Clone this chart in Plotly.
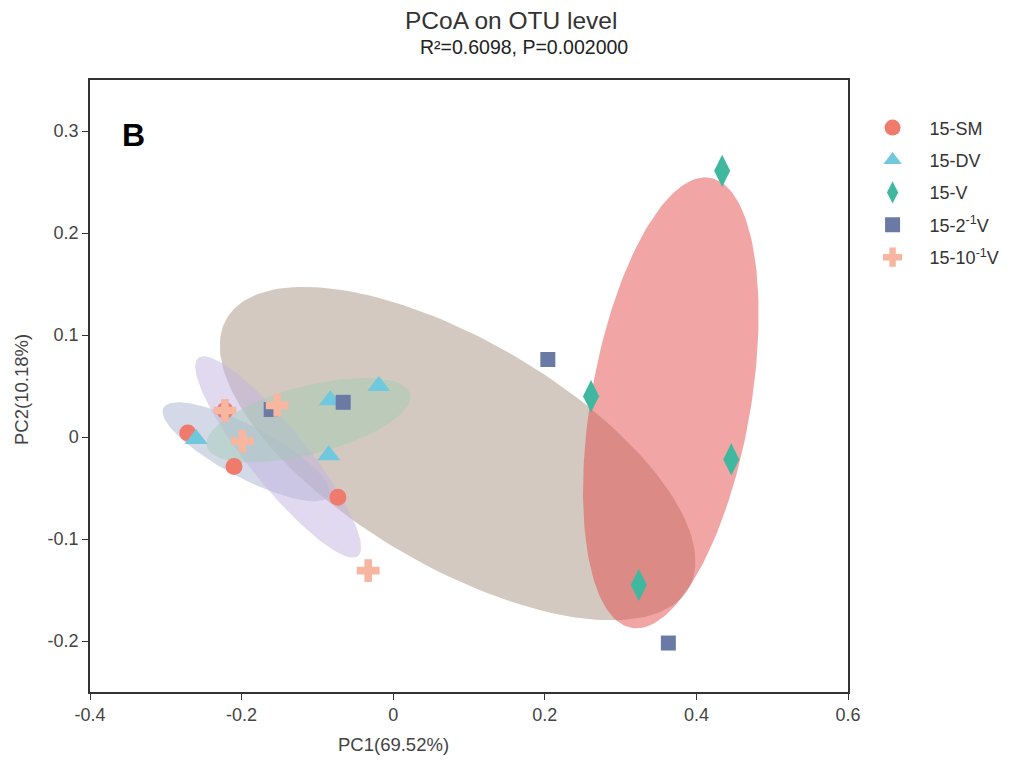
import numpy as np
import plotly.graph_objects as go

# ---- data ----
groups = ["15-SM", "15-DV", "15-V", "15-2<sup>-1</sup>V", "15-10<sup>-1</sup>V"]

sm_x = [-0.271, -0.222, -0.210, -0.073]
sm_y = [0.004, 0.026, -0.029, -0.059]

dv_x = [-0.260, -0.083, -0.019, -0.085]
dv_y = [-0.002, 0.036, 0.050, -0.018]

v_x = [0.434, 0.261, 0.446, 0.324]
v_y = [0.261, 0.040, -0.022, -0.145]

h2_x = [0.204, -0.066, -0.161, 0.363]
h2_y = [0.076, 0.034, 0.027, -0.202]

h10_x = [-0.222, -0.153, -0.199, -0.033]
h10_y = [0.026, 0.031, -0.004, -0.131]

x_tickvals = [-0.4, -0.2, 0, 0.2, 0.4, 0.6]
x_ticktext = ["-0.4", "-0.2", "0", "0.2", "0.4", "0.6"]
y_tickvals = [-0.2, -0.1, 0, 0.1, 0.2, 0.3]
y_ticktext = ["-0.2", "-0.1", "0", "0.1", "0.2", "0.3"]

# ---- styles ----
FONT = "Liberation Sans, Arial, sans-serif"
marker_colors = ["#EF7B6C", "#6FC8DC", "#40B8A0", "#6A7AA5", "#F6B6A0"]
marker_symbols = ["circle", "triangle-up", "diamond-tall", "square", "cross"]
marker_sizes = [17, 20, 23, 15, 19]
ellipse_fills = ["rgba(168,180,206,0.5)", "rgba(160,205,180,0.45)",
                 "rgba(228,76,76,0.5)", "rgba(167,147,129,0.5)",
                 "rgba(196,180,226,0.5)"]
ellipse_scale = 1.3

data = [(sm_x, sm_y), (dv_x, dv_y), (v_x, v_y), (h2_x, h2_y), (h10_x, h10_y)]


def ellipse(xs, ys, k, n=200):
    xs = np.asarray(xs); ys = np.asarray(ys)
    cov = np.cov(np.vstack([xs, ys]))
    vals, vecs = np.linalg.eigh(cov)
    t = np.linspace(0, 2 * np.pi, n)
    circ = np.vstack([np.cos(t), np.sin(t)])
    pts = vecs @ (np.sqrt(vals)[:, None] * circ) * k
    return pts[0] + xs.mean(), pts[1] + ys.mean()


fig = go.Figure()

ellipse_order = [3, 0, 4, 1, 2]
for i in ellipse_order:
    ex, ey = ellipse(data[i][0], data[i][1], ellipse_scale)
    fig.add_trace(go.Scatter(x=ex, y=ey, mode="lines", fill="toself",
                             fillcolor=ellipse_fills[i], line=dict(width=0),
                             hoverinfo="skip", showlegend=False))

for i, name in enumerate(groups):
    fig.add_trace(go.Scatter(
        x=data[i][0], y=data[i][1], mode="markers", name=name,
        legendgroup=str(i),
        marker=dict(color=marker_colors[i], symbol=marker_symbols[i],
                    size=marker_sizes[i], line=dict(width=0))))

tick_font = dict(family=FONT, size=18, color="#444444")
title_font = dict(family=FONT, size=18.5, color="#444444")
axis_style = dict(showline=True, linecolor="#333333", linewidth=1.5, mirror=True,
                  ticks="outside", ticklen=6, tickwidth=1.3, tickcolor="#333333",
                  showgrid=False, zeroline=False, automargin=False, tickfont=tick_font)

fig.update_layout(
    width=1019, height=761,
    margin=dict(l=90, r=171, t=80, b=69, autoexpand=False),
    plot_bgcolor="white", paper_bgcolor="white",
    font=dict(family=FONT, color="#333333"),
    xaxis=dict(range=[-0.4, 0.6], tickmode="array", tickvals=x_tickvals,
               ticktext=x_ticktext, **axis_style),
    yaxis=dict(range=[-0.25, 0.35], tickmode="array", tickvals=y_tickvals,
               ticktext=y_ticktext, **axis_style),
    legend=dict(x=1.010, y=0.952, xanchor="left", yanchor="top",
                font=dict(family=FONT, size=18, color="#333333"), tracegroupgap=6,
                itemsizing="trace", itemwidth=64, bgcolor="rgba(0,0,0,0)"),
    annotations=[
        dict(text="PCoA on OTU level", x=0.556, y=1.0, xref="paper", yref="paper",
             xanchor="center", yanchor="middle", yshift=60, showarrow=False,
             font=dict(family=FONT, size=24.5, color="#333333")),
        dict(text="R²=0.6098, P=0.002000", x=0.572, y=1.0, xref="paper", yref="paper",
             xanchor="center", yanchor="middle", yshift=33, showarrow=False,
             font=dict(family=FONT, size=19.5, color="#222222")),
        dict(text="<b>B</b>", x=0.040, y=0.910, xref="paper", yref="paper",
             xanchor="left", yanchor="middle", showarrow=False,
             font=dict(family=FONT, size=32, color="#000000")),
        dict(text="PC1(69.52%)", x=0.40, y=-0.0866, xref="paper", yref="paper",
             xanchor="center", yanchor="middle", showarrow=False, font=title_font),
        dict(text="PC2(10.18%)", x=-0.0897, y=0.4935, xref="paper", yref="paper",
             xanchor="center", yanchor="middle", textangle=-90, showarrow=False,
             font=title_font),
    ],
)

fig.write_html("out.html")
